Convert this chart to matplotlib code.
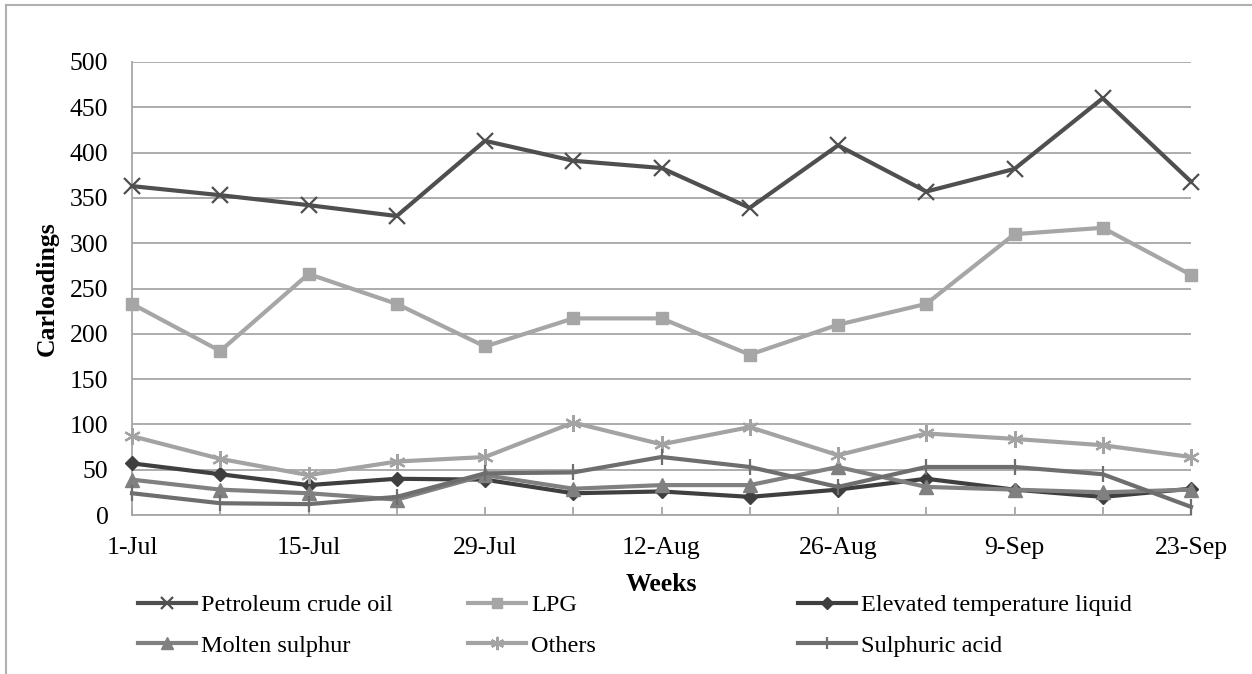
import matplotlib
matplotlib.use("Agg")
import matplotlib.pyplot as plt
from matplotlib.lines import Line2D

plt.rcParams["font.family"] = ["Liberation Serif", "DejaVu Serif"]

weeks = ["1-Jul", "8-Jul", "15-Jul", "22-Jul", "29-Jul", "5-Aug", "12-Aug",
         "19-Aug", "26-Aug", "2-Sep", "9-Sep", "16-Sep", "23-Sep"]

crude_oil = [363, 353, 342, 330, 413, 391, 383, 339, 408, 357, 382, 460, 368]
lpg = [233, 181, 266, 233, 186, 217, 217, 177, 210, 233, 310, 317, 265]
elevated_temp = [57, 45, 33, 40, 39, 24, 26, 20, 28, 40, 28, 20, 29]
molten_sulphur = [39, 28, 24, 17, 44, 29, 33, 33, 53, 31, 28, 25, 28]
others = [87, 62, 44, 59, 64, 102, 78, 97, 66, 90, 84, 77, 64]
sulphuric_acid = [24, 13, 12, 20, 46, 47, 64, 53, 31, 53, 53, 45, 9]

series = [
    ("Petroleum crude oil", crude_oil, "#4f4f4f", "x", 11, 1.6),
    ("LPG", lpg, "#a6a6a6", "s", 9, 1.0),
    ("Elevated temperature liquid", elevated_temp, "#3f3f3f", "D", 7.5, 1.0),
    ("Molten sulphur", molten_sulphur, "#808080", "^", 10, 1.0),
    ("Others", others, "#a3a3a3", (6, 2, 0), 12, 1.6),
    ("Sulphuric acid", sulphuric_acid, "#6e6e6e", "|", 11, 1.6),
]

W, H = 1252, 674
fig = plt.figure(figsize=(W / 100, H / 100), dpi=100)
ax = fig.add_axes([132 / W, 1 - 515 / H, (1191 - 132) / W, (515 - 62) / H])

x = list(range(len(weeks)))
handles = []
for name, vals, color, marker, ms, mew in series:
    h, = ax.plot(x, vals, color=color, lw=3.0, marker=marker, markersize=ms,
                 markeredgewidth=mew, markerfacecolor=color,
                 markeredgecolor=color, label=name, clip_on=False, zorder=3)
    handles.append(h)

ax.set_xlim(0, len(weeks) - 1)
ax.set_ylim(0, 500)
ax.set_yticks(range(0, 501, 50))
ax.set_xticks(x, minor=False)
ax.set_xticklabels([w if i % 2 == 0 else "" for i, w in enumerate(weeks)])

ax.grid(axis="y", color="#a6a6a6", lw=1.3, zorder=0)
ax.set_axisbelow(True)
for s in ("top", "right"):
    ax.spines[s].set_visible(False)
for s in ("left", "bottom"):
    ax.spines[s].set_color("#a6a6a6")
    ax.spines[s].set_linewidth(1.3)

ax.tick_params(axis="x", direction="in", length=6, width=1.3, color="#a6a6a6",
               labelsize=18.5, pad=16)
ax.tick_params(axis="y", length=0, labelsize=18.5, pad=17)

ax.set_xlabel("Weeks", fontsize=18.5, fontweight="bold", labelpad=10)
ax.set_ylabel("Carloadings", fontsize=18.5, fontweight="bold", labelpad=8)

# legend laid out as three columns of two entries
col_x = [138 / W, 468 / W, 798 / W]
for c in range(3):
    pair = [handles[c], handles[c + 3]]
    fig.legend(pair, [p.get_label() for p in pair], loc="upper left",
               bbox_to_anchor=(col_x[c], 1 - 594 / H), frameon=False,
               fontsize=17.5, handlelength=2.4, handletextpad=0.2,
               labelspacing=0.78, borderaxespad=0, borderpad=0,
               markerscale=0.8)

# outer frame lines
fig.add_artist(Line2D([6 / W, 6 / W], [0, 1 - 5 / H], transform=fig.transFigure,
                      color="#b0b0b0", lw=1.5))
fig.add_artist(Line2D([6 / W, 1], [1 - 5 / H, 1 - 5 / H], transform=fig.transFigure,
                      color="#b0b0b0", lw=1.5))

fig.savefig("out.png", dpi=100)
